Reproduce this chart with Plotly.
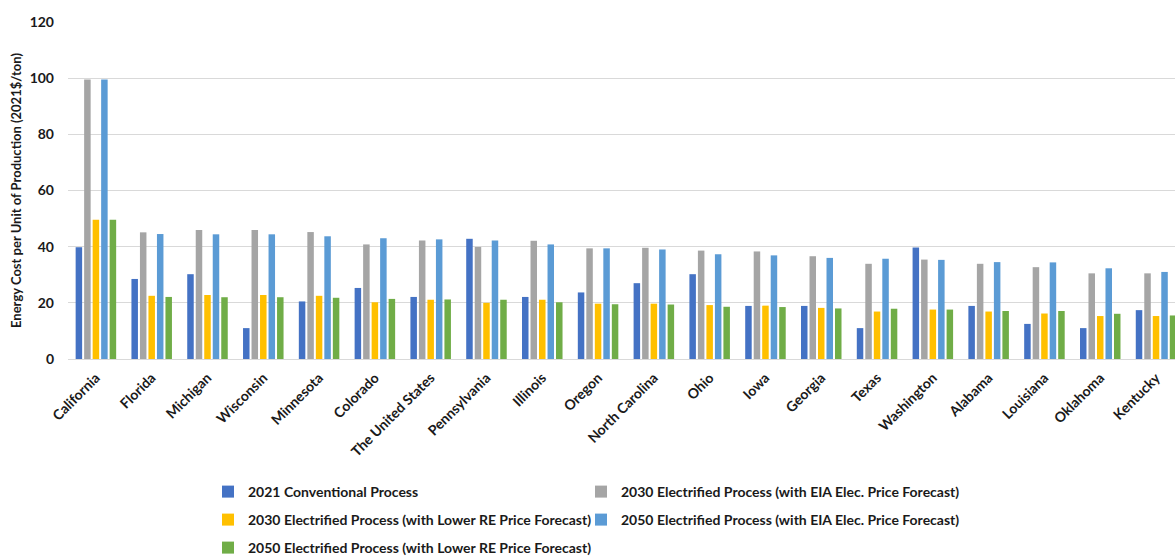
import plotly.graph_objects as go

# Regions, in display order
states = ["California", "Florida", "Michigan", "Wisconsin", "Minnesota", "Colorado",
          "The United States", "Pennsylvania", "Illinois", "Oregon", "North Carolina",
          "Ohio", "Iowa", "Georgia", "Texas", "Washington", "Alabama", "Louisiana",
          "Oklahoma", "Kentucky"]

# Energy cost per unit of production (2021$/ton)
conv_2021 = [39.8, 28.5, 30.2, 11.0, 20.5, 25.3, 22.1, 42.8, 22.1, 23.7,
             27.0, 30.2, 18.9, 18.9, 11.0, 39.7, 18.9, 12.5, 11.0, 17.4]
elec_2030_eia = [99.5, 45.1, 45.9, 45.9, 45.2, 40.8, 42.2, 39.9, 42.1, 39.4,
                 39.6, 38.6, 38.3, 36.6, 33.9, 35.4, 33.9, 32.7, 30.5, 30.5]
elec_2030_re = [49.6, 22.5, 22.8, 22.8, 22.5, 20.2, 21.1, 20.0, 21.1, 19.7,
                19.7, 19.2, 19.0, 18.2, 16.9, 17.6, 16.9, 16.2, 15.3, 15.3]
elec_2050_eia = [99.5, 44.5, 44.4, 44.4, 43.7, 43.0, 42.6, 42.2, 40.8, 39.4,
                 39.0, 37.3, 36.9, 36.0, 35.7, 35.3, 34.5, 34.4, 32.3, 31.0]
elec_2050_re = [49.6, 22.1, 22.0, 22.0, 21.8, 21.4, 21.2, 21.1, 20.2, 19.5,
                19.4, 18.6, 18.5, 18.0, 17.9, 17.6, 17.1, 17.1, 16.1, 15.5]

# name, values, colour, legend column, legend row
series = [
    ("2021 Conventional Process", conv_2021, "#4472C4", 0, 0),
    ("2030 Electrified Process (with EIA Elec. Price Forecast)", elec_2030_eia, "#A5A5A5", 1, 0),
    ("2030 Electrified Process (with Lower RE Price Forecast)", elec_2030_re, "#FFC000", 0, 1),
    ("2050 Electrified Process (with EIA Elec. Price Forecast)", elec_2050_eia, "#5B9BD5", 1, 1),
    ("2050 Electrified Process (with Lower RE Price Forecast)", elec_2050_re, "#70AD47", 0, 2),
]

FONT = "Lato"
TXT = "#1a1a1a"
bold14 = dict(family=FONT, size=14, color=TXT, weight="bold")

W, H = 1175, 556
COL_X = [208, 581]        # legend entry left edges (px)
ROW_Y = [492, 520, 548]   # legend entry centres (px from top)

fig = go.Figure()
legends = {}
for i, (name, vals, color, col, row) in enumerate(series):
    key = "legend" if i == 0 else f"legend{i + 1}"
    fig.add_trace(go.Bar(
        x=states, y=vals, name=name, legend=key, showlegend=True,
        marker=dict(color=color, line=dict(width=0)),
    ))
    legends[key] = dict(
        orientation="h", xref="container", yref="container",
        xanchor="left", yanchor="middle",
        x=COL_X[col] / W, y=1 - ROW_Y[row] / H,
        font=bold14, bgcolor="rgba(0,0,0,0)", borderwidth=0,
        itemclick=False, itemdoubleclick=False,
    )

fig.update_layout(
    width=W, height=H,
    showlegend=True,
    margin=dict(l=68, r=0, t=22, b=196.7),
    paper_bgcolor="white", plot_bgcolor="white",
    barmode="group", bargap=0.238, bargroupgap=0.235,
    font=dict(family=FONT, size=14, color=TXT),
    xaxis=dict(
        range=[-0.5, 19.34], tickangle=-45,
        tickfont=bold14, ticklabelstandoff=7,
        showgrid=False, showline=False, ticks="",
    ),
    yaxis=dict(
        range=[0, 120], dtick=20,
        showgrid=True, gridcolor="#D9D9D9", gridwidth=1,
        zeroline=True, zerolinecolor="#D9D9D9", zerolinewidth=1,
        tickfont=bold14, ticklabelstandoff=13,
        title=dict(text="Energy Cost per Unit of Production (2021$/ton)",
                   font=dict(family=FONT, size=13, color=TXT, weight="bold"),
                   standoff=5),
        automargin=False,
    ),
    **legends,
)

fig.write_html("out.html")
